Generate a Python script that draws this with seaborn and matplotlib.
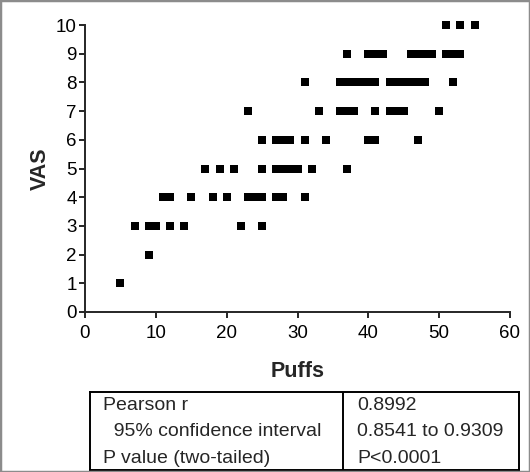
import numpy as np
import pandas as pd
import matplotlib
matplotlib.use('Agg')
import matplotlib.pyplot as plt
import seaborn as sns

vas_levels = [1, 2, 3, 4, 5, 6, 7, 8, 9, 10]
puffs_by_vas = [
    [5],
    [9],
    [7, 9, 10, 12, 14, 22, 25],
    [11, 12, 15, 18, 20, 23, 24, 25, 27, 28, 31],
    [17, 19, 21, 25, 27, 28, 29, 30, 32, 37],
    [25, 27, 28, 29, 31, 34, 40, 41, 47],
    [23, 33, 36, 37, 38, 41, 43, 44, 45, 50],
    [31, 36, 37, 38, 39, 40, 41, 43, 44, 45, 46, 47, 48, 52],
    [37, 40, 41, 42, 46, 47, 48, 49, 51, 52, 53],
    [51, 53, 55],
]

stat_names = ['Pearson r', '  95% confidence interval', 'P value (two-tailed)']
stat_values = ['0.8992', '0.8541 to 0.9309', 'P<0.0001']

rows = []
for v, xs in zip(vas_levels, puffs_by_vas):
    for x in xs:
        rows.append({'Puffs': x, 'VAS': v})
df = pd.DataFrame(rows)

sns.set_style('ticks')
plt.rcParams['font.family'] = ['Liberation Sans', 'DejaVu Sans']

fig = plt.figure(figsize=(5.30, 4.72), dpi=100)
ax = fig.add_axes([85/530, 160/472, 425/530, 287/472])

sns.scatterplot(data=df, x='Puffs', y='VAS', marker='s', s=31, color='black',
                linewidth=0, ax=ax, clip_on=False)

ax.set_xlim(0, 60)
ax.set_ylim(0, 10)
ax.set_xticks(range(0, 61, 10))
ax.set_yticks(range(0, 11))
sns.despine(ax=ax)
for side in ['left', 'bottom']:
    ax.spines[side].set_linewidth(1.4)
ax.tick_params(length=4, width=1.2, labelsize=13.5, pad=2, colors='black')
ax.tick_params(axis='x', pad=5)

ax.set_xlabel('Puffs', fontsize=15.5, fontweight='bold')
ax.set_ylabel('VAS', fontsize=15.5, fontweight='bold')
ax.xaxis.set_label_coords(0.5, -0.17)
ax.yaxis.set_label_coords(-0.08, 0.5)

# statistics table under the plot
tab = fig.add_axes([90/530, 2/472, 429/530, 78/472])
tab.set_xlim(0, 1)
tab.set_ylim(0, 3)
tab.set_xticks([])
tab.set_yticks([])
for sp in tab.spines.values():
    sp.set_linewidth(1.4)
    sp.set_color('black')
split = (343 - 90) / 429
tab.axvline(split, color='black', lw=1.4)
for i, (name, val) in enumerate(zip(stat_names, stat_values)):
    y = 2.5 - i * 1.02
    tab.text(13/429, y, name, fontsize=14, va='center', ha='left')
    tab.text(split + 14/429, y, val, fontsize=14, va='center', ha='left')

fig.patches.append(plt.Rectangle((0, 0), 1, 1, transform=fig.transFigure,
                                 fill=False, edgecolor='#8c8c8c', lw=2.5))

fig.savefig('out.png', dpi=100)
